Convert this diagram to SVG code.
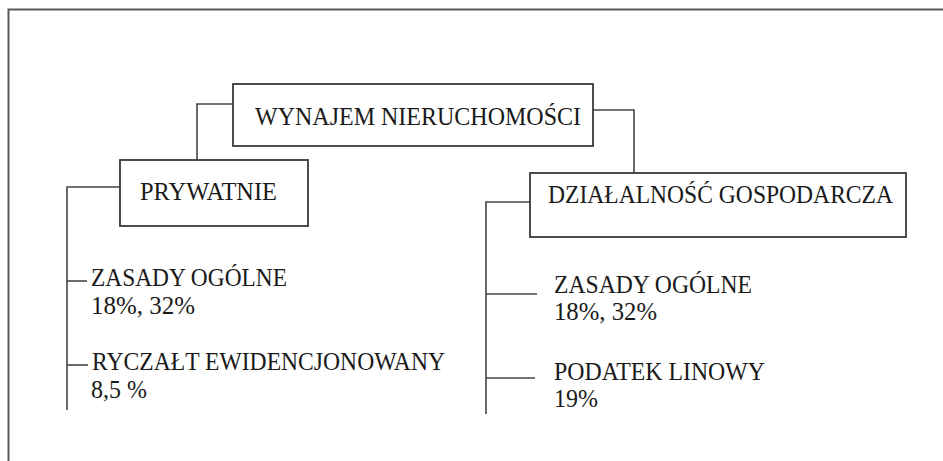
<svg xmlns="http://www.w3.org/2000/svg" width="943" height="461" viewBox="0 0 943 461">
<style>
.bg{fill:#ffffff}
.frame{fill:none;stroke:#5a5a5a;stroke-width:2}
.box{fill:#ffffff;stroke:#3a3a3a;stroke-width:1.8}
.ln{fill:none;stroke:#444444;stroke-width:1.6}
.t{font-family:"Liberation Serif","Times New Roman",serif;font-size:25px;fill:#1a1a1a}
</style>
<rect class="bg" x="0" y="0" width="943" height="461"/>
<path class="frame" d="M8.5,461 V9.5 H943"/>
<g id="connectors">
<path class="ln" d="M233,104 H197 V160"/>
<path class="ln" d="M593,110 H634 V173"/>
<path class="ln" d="M120,187 H67 V410"/>
<path class="ln" d="M67,281 H87"/>
<path class="ln" d="M67,365 H88"/>
<path class="ln" d="M530,202 H486 V414"/>
<path class="ln" d="M486,294 H537"/>
<path class="ln" d="M486,378 H535"/>
</g>
<g id="n-wynajem">
<rect class="box" x="233" y="84" width="360" height="62"/>
<text class="t" x="255" y="124.5" textLength="326" lengthAdjust="spacingAndGlyphs">WYNAJEM NIERUCHOMOŚCI</text>
</g>
<g id="n-prywatnie">
<rect class="box" x="120" y="160" width="188" height="66"/>
<text class="t" x="140" y="200" textLength="137" lengthAdjust="spacingAndGlyphs">PRYWATNIE</text>
</g>
<g id="n-dzialalnosc">
<rect class="box" x="530" y="173" width="376" height="64"/>
<text class="t" x="548" y="203" textLength="345" lengthAdjust="spacingAndGlyphs">DZIAŁALNOŚĆ GOSPODARCZA</text>
</g>
<g id="n-left-zasady">
<text class="t" x="91" y="286" textLength="196" lengthAdjust="spacingAndGlyphs">ZASADY OGÓLNE</text>
<text class="t" x="91" y="314" textLength="104" lengthAdjust="spacingAndGlyphs">18%, 32%</text>
</g>
<g id="n-left-ryczalt">
<text class="t" x="92" y="370" textLength="353" lengthAdjust="spacingAndGlyphs">RYCZAŁT EWIDENCJONOWANY</text>
<text class="t" x="91" y="398" textLength="56" lengthAdjust="spacingAndGlyphs">8,5 %</text>
</g>
<g id="n-right-zasady">
<text class="t" x="554" y="293" textLength="198" lengthAdjust="spacingAndGlyphs">ZASADY OGÓLNE</text>
<text class="t" x="554" y="320" textLength="103" lengthAdjust="spacingAndGlyphs">18%, 32%</text>
</g>
<g id="n-right-podatek">
<text class="t" x="554" y="380" textLength="211" lengthAdjust="spacingAndGlyphs">PODATEK LINOWY</text>
<text class="t" x="554" y="407" textLength="44" lengthAdjust="spacingAndGlyphs">19%</text>
</g>
</svg>
